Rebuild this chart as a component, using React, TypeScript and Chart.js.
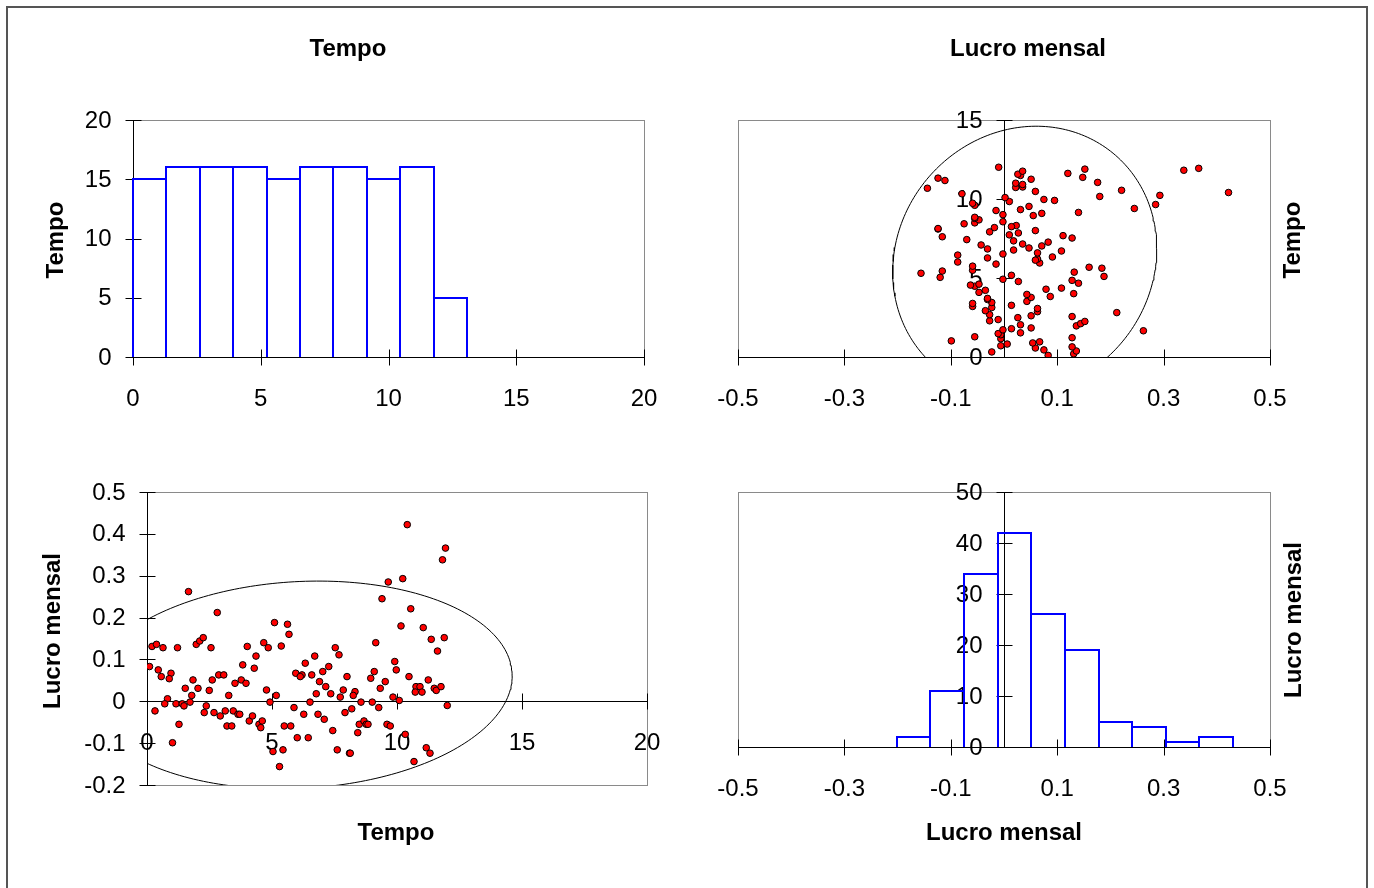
import React, { useEffect, useRef } from "react";
import { Chart, registerables } from "chart.js";
Chart.register(...registerables);

const FONT = 'Arial, "Liberation Sans", sans-serif';
Chart.defaults.font.family = FONT;

// ---- Data ----
const tempo = [
  1.66, 2.81, 0.2, 0.38, 0.64, 1.22, 1.97, 2.11, 2.25, 2.56,
  4.01, 0.1, 0.45, 0.57, 0.96, 0.89, 3.83, 1.53, 1.84, 2.04,
  1.79, 2.49, 2.61, 2.87, 3.07, 3.27, 3.52, 3.77, 3.96, 0.82,
  0.71, 1.16, 1.41, 1.48, 1.72, 2.37, 0.32, 2.29, 2.68, 2.93,
  3.13, 3.45, 3.64, 3.71, 4.09, 1.28, 3.2, 3.39, 1.02,
  5.1, 5.62, 5.68, 4.67, 4.85, 5.37, 4.36, 4.29, 7.53, 7.68,
  6.71, 6.33, 7.27, 7.03, 5.95, 6.2, 6.13, 6.59, 8.0, 6.9,
  7.15, 7.85, 6.77, 7.35, 7.73, 4.78, 5.17, 4.92, 6.52, 5.88,
  6.27, 6.84, 7.09, 7.92, 4.22, 4.48, 4.55, 4.61, 5.49, 5.75,
  7.43, 6.01, 6.45, 5.04, 5.44, 7.61, 8.1, 5.3,
  10.41, 11.94, 11.82, 9.65, 10.23, 9.4, 10.55, 10.16, 11.05, 11.37,
  11.89, 11.62, 9.15, 9.91, 9.97, 9.09, 8.95, 9.53, 10.48, 9.33,
  8.32, 8.25, 10.76, 10.92, 10.73, 11.0, 11.25, 11.49, 11.57, 11.76,
  9.84, 10.09, 8.56, 9.01, 12.01, 8.19, 9.27, 8.49, 8.68, 8.77,
  8.84, 8.43, 9.6, 9.73, 10.33, 8.13, 11.17, 11.32, 10.68,
];
const lucro = [
  0.262, 0.212, 0.131, 0.136, 0.128, 0.128, 0.136, 0.144, 0.152, 0.128,
  0.131, 0.083, 0.075, 0.059, 0.067, 0.054, 0.087, 0.031, 0.051, 0.031,
  0.014, 0.026, 0.051, 0.063, 0.063, 0.014, 0.043, 0.051, 0.043, 0.006,
  -0.006, -0.006, -0.006, -0.011, -0.002, -0.011, -0.023, -0.027, -0.027, -0.035,
  -0.023, -0.023, -0.031, -0.031, -0.047, -0.055, -0.059, -0.059, -0.099,
  0.188, 0.184, 0.16, 0.14, 0.128, 0.132, 0.108, 0.079, 0.128, 0.111,
  0.108, 0.091, 0.083, 0.071, 0.067, 0.063, 0.059, 0.063, 0.059, 0.047,
  0.035, 0.027, 0.018, 0.018, 0.01, 0.027, 0.014, -0.002, -0.002, -0.015,
  -0.031, -0.031, -0.043, -0.027, -0.035, -0.055, -0.063, -0.047, -0.059, -0.059,
  -0.07, -0.087, -0.087, -0.12, -0.116, -0.116, -0.124, -0.156,
  0.422, 0.366, 0.338, 0.285, 0.293, 0.245, 0.221, 0.18, 0.176, 0.148,
  0.152, 0.12, 0.14, 0.095, 0.075, 0.071, 0.055, 0.047, 0.059, 0.031,
  0.023, 0.014, 0.035, 0.035, 0.022, 0.022, 0.051, 0.031, 0.026, 0.035,
  0.01, 0.002, -0.002, -0.002, -0.01, -0.018, -0.015, -0.055, -0.047, -0.055,
  -0.055, -0.075, -0.055, -0.059, -0.079, -0.124, -0.111, -0.124, -0.144,
];

const tempoBinEdges = [0, 1.307, 2.614, 3.921, 5.228, 6.535, 7.842, 9.149, 10.456, 11.763, 13.07];
const tempoCounts = [15, 16, 16, 16, 15, 16, 16, 15, 16, 5];
const lucroBinEdges = [-0.2015, -0.1383, -0.0751, -0.0119, 0.0513, 0.1145, 0.1777, 0.2409, 0.3041, 0.3673, 0.4305];
const lucroCounts = [2, 11, 34, 42, 26, 19, 5, 4, 1, 2];

const tempoAxisTicks = [0, 5, 10, 15, 20];
const tempoAxisLabels = ["0", "5", "10", "15", "20"];
const tempoYTicks = [0, 5, 10, 15];
const tempoYLabels = ["0", "5", "10", "15"];
const lucroAxisTicks = [-0.5, -0.3, -0.1, 0.1, 0.3, 0.5];
const lucroAxisLabels = ["-0.5", "-0.3", "-0.1", "0.1", "0.3", "0.5"];
const lucroYTicks = [-0.2, -0.1, 0, 0.1, 0.2, 0.3, 0.4, 0.5];
const lucroYLabels = ["-0.2", "-0.1", "0", "0.1", "0.2", "0.3", "0.4", "0.5"];
const tempoCountTicks = [0, 5, 10, 15, 20];
const tempoCountLabels = ["0", "5", "10", "15", "20"];
const lucroCountTicks = [0, 10, 20, 30, 40, 50];
const lucroCountLabels = ["0", "10", "20", "30", "40", "50"];

const W = 1374;
const H = 888;

// ---- helpers ----
function scaleOpts(axis: "x" | "y", min: number, max: number, ticks: number[], labels: string[]) {
  return {
    type: "linear",
    min,
    max,
    offset: false,
    position: axis === "x" ? { y: 0 } : { x: 0 },
    grid: { display: false, drawTicks: false, tickLength: 0 },
    border: { display: false },
    afterBuildTicks: (s: any) => {
      s.ticks = ticks.map((v) => ({ value: v }));
    },
    ticks: {
      display: axis === "x",
      autoSkip: false,
      maxRotation: 0,
      minRotation: 0,
      padding: 28,
      color: "#000",
      font: { size: 24, family: FONT },
      callback: (_v: any, i: number) => labels[i],
    },
  };
}

function ellipsePoints(xs: number[], ys: number[]) {
  const n = xs.length;
  const mx = xs.reduce((a, b) => a + b, 0) / n;
  const my = ys.reduce((a, b) => a + b, 0) / n;
  let sxx = 0, syy = 0, sxy = 0;
  for (let i = 0; i < n; i++) {
    const dx = xs[i] - mx, dy = ys[i] - my;
    sxx += dx * dx; syy += dy * dy; sxy += dx * dy;
  }
  sxx /= n - 1; syy /= n - 1; sxy /= n - 1;
  const k = Math.sqrt(5.991);
  const a = Math.sqrt(sxx);
  const b = sxy / a;
  const c = Math.sqrt(Math.max(syy - b * b, 0));
  const pts: { x: number; y: number }[] = [];
  for (let i = 0; i <= 240; i++) {
    const th = (2 * Math.PI * i) / 240;
    pts.push({ x: mx + k * a * Math.cos(th), y: my + k * (b * Math.cos(th) + c * Math.sin(th)) });
  }
  return pts;
}

function histData(edges: number[], counts: number[]) {
  return counts.map((c, i) => ({ x: (edges[i] + edges[i + 1]) / 2, y: c }));
}

// Frame, axis lines through 0, crossing tick marks and y tick labels
const axesFramePlugin = {
  id: "axesFrame",
  beforeDatasetsDraw(chart: any, _args: any, opts: any) {
    const { ctx, chartArea: a } = chart;
    const xs = chart.scales.x;
    const ys = chart.scales.y;
    const r = (v: number) => Math.round(v) + 0.5;
    ctx.save();
    ctx.lineWidth = 1;
    ctx.strokeStyle = "#8a8a8a";
    ctx.strokeRect(r(a.left), r(a.top), Math.round(a.right) - Math.round(a.left), Math.round(a.bottom) - Math.round(a.top));
    const x0 = r(xs.getPixelForValue(0));
    const y0 = r(ys.getPixelForValue(0));
    ctx.strokeStyle = "#000";
    ctx.beginPath();
    ctx.moveTo(r(a.left), y0);
    ctx.lineTo(r(a.right), y0);
    ctx.moveTo(x0, r(a.top));
    ctx.lineTo(x0, r(a.bottom));
    const T = 8;
    xs.ticks.forEach((t: any) => {
      const px = r(xs.getPixelForValue(t.value));
      ctx.moveTo(px, y0 - T);
      ctx.lineTo(px, y0 + T);
    });
    ys.ticks.forEach((t: any) => {
      const py = r(ys.getPixelForValue(t.value));
      ctx.moveTo(x0 - T, py);
      ctx.lineTo(x0 + T, py);
    });
    ctx.stroke();
    // y tick labels, right-aligned left of the vertical axis
    const labels: string[] = (opts && opts.yLabels) || [];
    ctx.fillStyle = "#000";
    ctx.font = `24px ${FONT}`;
    ctx.textAlign = "right";
    ctx.textBaseline = "middle";
    ys.ticks.forEach((t: any, i: number) => {
      const py = ys.getPixelForValue(t.value);
      ctx.fillText(labels[i] ?? String(t.value), x0 - 22, py + 1);
    });
    ctx.restore();
  },
};

const histOutlinePlugin = {
  id: "histOutline",
  afterDatasetsDraw(chart: any) {
    const meta = chart.getDatasetMeta(0);
    if (meta.type !== "bar") return;
    const { ctx } = chart;
    ctx.save();
    ctx.strokeStyle = "#0000ff";
    ctx.lineWidth = 2;
    ctx.beginPath();
    meta.data.forEach((el: any) => {
      const { x, y, base, width } = el.getProps(["x", "y", "base", "width"], true);
      const l = Math.round(x - width / 2);
      const rr = Math.round(x + width / 2);
      const t = Math.round(y);
      const b = Math.round(base);
      ctx.moveTo(l, b);
      ctx.lineTo(l, t);
      ctx.lineTo(rr, t);
      ctx.lineTo(rr, b);
    });
    ctx.stroke();
    ctx.restore();
  },
};

function baseOptions(area: { l: number; t: number; r: number; b: number }, scales: any, yLabels: string[]) {
  return {
    responsive: false,
    animation: false,
    devicePixelRatio: 1,
    layout: { padding: { left: area.l, top: area.t, right: W - area.r, bottom: H - area.b } },
    plugins: {
      legend: { display: false },
      tooltip: { enabled: false },
      title: { display: false },
      axesFrame: { yLabels },
    },
    events: [],
    scales,
  };
}

const pointStyle = {
  pointRadius: 3.3,
  pointBackgroundColor: "#ff0000",
  pointBorderColor: "#000000",
  pointBorderWidth: 1,
  showLine: false,
};

const ellipseStyle = {
  showLine: true,
  pointRadius: 0,
  borderColor: "#000000",
  borderWidth: 1,
  tension: 0,
  fill: false,
};

const barStyle = {
  backgroundColor: "rgba(0,0,0,0)",
  borderWidth: 0,
  barPercentage: 1,
  categoryPercentage: 1,
  inflateAmount: 0,
};

function Label({ x, y, text, rot }: { x: number; y: number; text: string; rot?: boolean }) {
  return (
    <div
      style={{
        position: "absolute",
        left: x,
        top: y,
        transform: `translate(-50%, -50%)${rot ? " rotate(-90deg)" : ""}`,
        fontFamily: FONT,
        fontWeight: "bold",
        fontSize: 24,
        lineHeight: "24px",
        whiteSpace: "nowrap",
        color: "#000",
      }}
    >
      {text}
    </div>
  );
}

export default function App() {
  const r1 = useRef<HTMLCanvasElement>(null);
  const r2 = useRef<HTMLCanvasElement>(null);
  const r3 = useRef<HTMLCanvasElement>(null);
  const r4 = useRef<HTMLCanvasElement>(null);

  useEffect(() => {
    const charts: Chart[] = [];

    // Top-left: histogram of Tempo
    charts.push(
      new Chart(r1.current as HTMLCanvasElement, {
        type: "bar",
        data: { datasets: [{ data: histData(tempoBinEdges, tempoCounts), ...barStyle } as any] },
        options: baseOptions({ l: 133, t: 120, r: 644, b: 357 }, {
          x: scaleOpts("x", 0, 20, tempoAxisTicks, tempoAxisLabels),
          y: scaleOpts("y", 0, 20, tempoCountTicks, tempoCountLabels),
        }, tempoCountLabels) as any,
        plugins: [axesFramePlugin, histOutlinePlugin],
      })
    );

    // Top-right: Lucro (x) vs Tempo (y)
    charts.push(
      new Chart(r2.current as HTMLCanvasElement, {
        type: "scatter",
        data: {
          datasets: [
            { data: lucro.map((l, i) => ({ x: l, y: tempo[i] })), ...pointStyle } as any,
            { data: ellipsePoints(lucro, tempo), ...ellipseStyle } as any,
          ],
        },
        options: baseOptions({ l: 738, t: 120, r: 1270, b: 357 }, {
          x: scaleOpts("x", -0.5, 0.5, lucroAxisTicks, lucroAxisLabels),
          y: scaleOpts("y", 0, 15, tempoYTicks, tempoYLabels),
        }, tempoYLabels) as any,
        plugins: [axesFramePlugin],
      })
    );

    // Bottom-left: Tempo (x) vs Lucro (y)
    charts.push(
      new Chart(r3.current as HTMLCanvasElement, {
        type: "scatter",
        data: {
          datasets: [
            { data: tempo.map((t, i) => ({ x: t, y: lucro[i] })), ...pointStyle } as any,
            { data: ellipsePoints(tempo, lucro), ...ellipseStyle } as any,
          ],
        },
        options: baseOptions({ l: 147, t: 492, r: 647, b: 785 }, {
          x: scaleOpts("x", 0, 20, tempoAxisTicks, tempoAxisLabels),
          y: scaleOpts("y", -0.2, 0.5, lucroYTicks, lucroYLabels),
        }, lucroYLabels) as any,
        plugins: [axesFramePlugin],
      })
    );

    // Bottom-right: histogram of Lucro mensal
    charts.push(
      new Chart(r4.current as HTMLCanvasElement, {
        type: "bar",
        data: { datasets: [{ data: histData(lucroBinEdges, lucroCounts), ...barStyle } as any] },
        options: baseOptions({ l: 738, t: 492, r: 1270, b: 747 }, {
          x: scaleOpts("x", -0.5, 0.5, lucroAxisTicks, lucroAxisLabels),
          y: scaleOpts("y", 0, 50, lucroCountTicks, lucroCountLabels),
        }, lucroCountLabels) as any,
        plugins: [axesFramePlugin, histOutlinePlugin],
      })
    );

    return () => charts.forEach((c) => c.destroy());
  }, []);

  const canvasStyle: React.CSSProperties = { position: "absolute", left: 0, top: 0, width: W, height: H };

  return (
    <div style={{ position: "absolute", left: 0, top: 0, width: W, height: H, overflow: "hidden", background: "#fff" }}>
      <div
        style={{
          position: "absolute",
          left: 6,
          top: 6,
          width: 1362,
          height: H - 6,
          boxSizing: "border-box",
          borderLeft: "2px solid #555",
          borderTop: "2px solid #555",
          borderRight: "2px solid #555",
        }}
      />
      <canvas ref={r1} width={W} height={H} style={canvasStyle} />
      <canvas ref={r2} width={W} height={H} style={canvasStyle} />
      <canvas ref={r3} width={W} height={H} style={canvasStyle} />
      <canvas ref={r4} width={W} height={H} style={canvasStyle} />
      <Label x={348} y={48} text="Tempo" />
      <Label x={1028} y={48} text="Lucro mensal" />
      <Label x={55} y={240} text="Tempo" rot />
      <Label x={1292} y={240} text="Tempo" rot />
      <Label x={52} y={631} text="Lucro mensal" rot />
      <Label x={1293} y={620} text="Lucro mensal" rot />
      <Label x={396} y={832} text="Tempo" />
      <Label x={1004} y={832} text="Lucro mensal" />
    </div>
  );
}
